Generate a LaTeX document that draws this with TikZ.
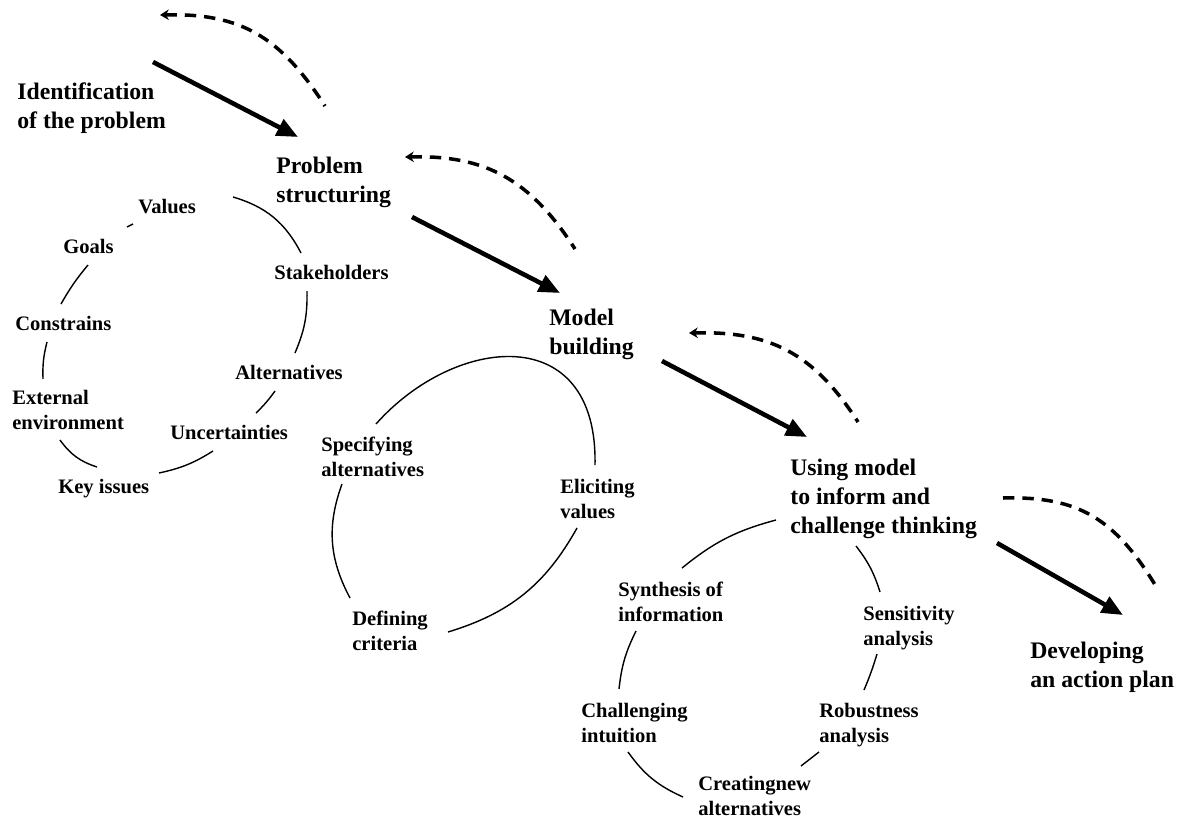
\documentclass[tikz,border=0pt]{standalone}
\usepackage{fontspec}
\setmainfont{Liberation Serif}
\usetikzlibrary{arrows.meta}

\begin{document}
\begin{tikzpicture}[x=0.02cm,y=-0.02cm,
    big/.style={anchor=north west,inner sep=0pt,align=left,
      font=\bfseries\fontsize{13.5}{16.5}\selectfont},
    small/.style={anchor=north west,inner sep=0pt,align=left,
      font=\bfseries\fontsize{11.7}{14.2}\selectfont},
    ring/.style={line width=0.8pt},
    fwd/.style={line width=2.6pt,-{Triangle[length=12pt,width=10pt]}},
    back/.style={line width=2pt,dash pattern=on 6.5pt off 4.5pt,
      {Stealth[length=5pt,width=6pt]}-}]
      \useasboundingbox (0,0) rectangle (1183,818);

      \node[big] (ident) at (17,82) {Identification\\of the problem};
      \node[big] (prob) at (276,157) {Problem\\structuring};
      \node[big] (model) at (549,309) {Model\\building};
      \node[big] (using) at (790,459) {Using model\\to inform and\\challenge thinking};
      \node[big] (dev) at (1030,642) {Developing\\an action plan};

      \node[small] (val) at (138,199) {Values};
      \node[small] (goal) at (63,239) {Goals};
      \node[small] (cons) at (15,316) {Constrains};
      \node[small] (ext) at (12,390) {External\\environment};
      \node[small] (key) at (58,479) {Key issues};
      \node[small] (unc) at (170,425) {Uncertainties};
      \node[small] (alt) at (235,365) {Alternatives};
      \node[small] (stk) at (274,265) {Stakeholders};

      \node[small] (spec) at (321,437) {Specifying\\alternatives};
      \node[small] (elic) at (560,479) {Eliciting\\values};
      \node[small] (defn) at (352,611) {Defining\\criteria};

      \node[small] (syn) at (618,582) {Synthesis of\\information};
      \node[small] (sens) at (863,606) {Sensitivity\\analysis};
      \node[small] (chal) at (581,703) {Challenging\\intuition};
      \node[small] (rob) at (819,703) {Robustness\\analysis};
      \node[small] (cre) at (698,776) {Creatingnew\\alternatives};

      \draw[fwd] ([shift={(136,-20)}]ident.north west) -- ([shift={(22,-20)}]prob.north west);
      \draw[fwd] ([shift={(136,60)}]prob.north west) -- ([shift={(11,-16)}]model.north west);
      \draw[fwd] ([shift={(113,52)}]model.north west) -- ([shift={(17,-22)}]using.north west);
      \draw[fwd] ([shift={(207,84)}]using.north west) -- ([shift={(93,-27)}]dev.north west);

      \draw[back] ([shift={(143,-67)}]ident.north west) .. controls +(80,-2) and +(-45,-70) .. ([shift={(49,-51)}]prob.north west);
      \draw[back] ([shift={(129,0)}]prob.north west) .. controls +(80,-2) and +(-45,-70) .. ([shift={(26,-60)}]model.north west);
      \draw[back] ([shift={(140,24)}]model.north west) .. controls +(80,-2) and +(-45,-70) .. ([shift={(68,-37)}]using.north west);
      \draw[back,-] ([shift={(213,39)}]using.north west) .. controls +(75,-2) and +(-42,-70) .. ([shift={(127,-54)}]dev.north west);

      \draw[ring] ([shift={(95,-2)}]val.north west) to[bend left=23] ([shift={(27,-12)}]stk.north west);
      \draw[ring] ([shift={(33,26)}]stk.north west) to[bend left=12] ([shift={(60,-12)}]alt.north west);
      \draw[ring] ([shift={(40,26)}]alt.north west) to[bend left=5] ([shift={(86,-12)}]unc.north west);
      \draw[ring] ([shift={(43,26)}]unc.north west) to[bend left=10] ([shift={(101,-6)}]key.north west);
      \draw[ring] ([shift={(39,-12)}]key.north west) to[bend left=18] ([shift={(48,50)}]ext.north west);
      \draw[ring] ([shift={(31,-11)}]ext.north west) to[bend left=8] ([shift={(32,26)}]cons.north west);
      \draw[ring] ([shift={(46,-12)}]cons.north west) to[bend left=5] ([shift={(25,26)}]goal.north west);
      \draw[ring] ([shift={(64,-12)}]goal.north west) -- ([shift={(-5,25)}]val.north west);

      \draw[ring] ([shift={(55,-13)}]spec.north west) .. controls +(79,-89) and +(3,-145) .. ([shift={(35,-14)}]elic.north west);
      \draw[ring] ([shift={(17,49)}]elic.north west) to[bend left=22] ([shift={(96,21)}]defn.north west);
      \draw[ring] ([shift={(-2,-13)}]defn.north west) to[bend left=24] ([shift={(21,47)}]spec.north west);

      \draw[ring] ([shift={(64,-14)}]syn.north west) to[bend left=12] ([shift={(-14,61)}]using.north west);
      \draw[ring] ([shift={(66,87)}]using.north west) to[bend left=10] ([shift={(17,-14)}]sens.north west);
      \draw[ring] ([shift={(14,48)}]sens.north west) to[bend left=3] ([shift={(45,-13)}]rob.north west);
      \draw[ring] ([shift={(0,49)}]rob.north west) -- ([shift={(103,-10)}]cre.north west);
      \draw[ring] ([shift={(-15,21)}]cre.north west) to[bend left=15] ([shift={(47,49)}]chal.north west);
      \draw[ring] ([shift={(38,-14)}]chal.north west) to[bend left=10] ([shift={(18,49)}]syn.north west);
\end{tikzpicture}
\end{document}
